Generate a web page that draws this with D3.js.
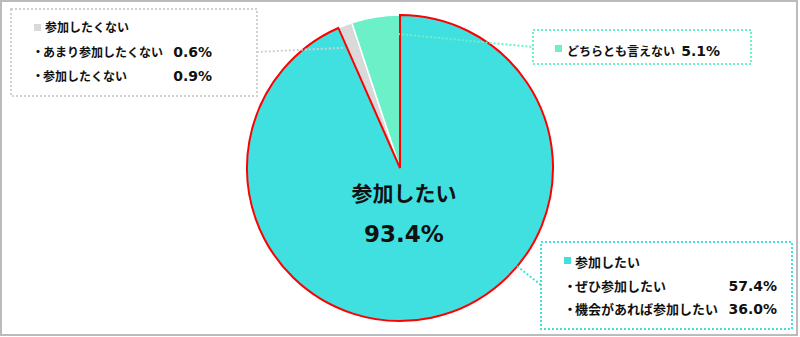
<!DOCTYPE html>
<html>
<head>
<meta charset="utf-8">
<script src="https://cdn.jsdelivr.net/npm/d3@7"></script>
<style>
  body { margin: 0; background: #fff; }
  text { font-family: "DejaVu Sans", "Noto Sans CJK JP", sans-serif; font-weight: bold; fill: #111; }
</style>
</head>
<body>
<script>
const w = 800;
const h = 337;

// data
const groups = ["参加したい", "参加したくない", "どちらとも言えない"];
const wantItems = ["ぜひ参加したい", "機会があれば参加したい"];
const wantValues = [57.4, 36.0];
const notItems = ["あまり参加したくない", "参加したくない"];
const notValues = [0.6, 0.9];
const neutralValue = 5.1;
const totalWant = 93.4;

const colors = ["#40E0E0", "#D9D9D9", "#6CF0C8"];
const groupValues = [totalWant, d3.sum(notValues), neutralValue];

let svg = d3.select("body").append("svg")
    .attr("width", w)
    .attr("height", h);

// outer frame
svg.append("rect")
    .attr("x", 1).attr("y", 1)
    .attr("width", 796).attr("height", 334)
    .attr("fill", "none")
    .attr("stroke", "#BBBBBB")
    .attr("stroke-width", 2);

const cx = 400, cy = 168, R = 153;

let pie = d3.pie().sort(null).value(d => d);
let arcs = pie(groupValues);
let arc = d3.arc().innerRadius(0).outerRadius(R);

let g = svg.append("g").attr("transform", "translate(" + cx + "," + cy + ")");

// small slices first, the big one with its red outline last
g.selectAll("path.small")
    .data(arcs.slice(1))
    .enter().append("path")
    .attr("class", "small")
    .attr("d", arc)
    .attr("fill", (d, i) => colors[i + 1])
    .attr("stroke", "#fff")
    .attr("stroke-width", 1.5);

g.append("path")
    .datum(arcs[0])
    .attr("d", arc)
    .attr("fill", colors[0])
    .attr("stroke", "#FF0000")
    .attr("stroke-width", 2);

function polar(a, r) {
    return [cx + r * Math.sin(a), cy - r * Math.cos(a)];
}

// center label
svg.append("text")
    .attr("x", cx + 4).attr("y", 201)
    .attr("text-anchor", "middle")
    .style("font-size", "21px")
    .text(groups[0]);
svg.append("text")
    .attr("x", cx + 4).attr("y", 242)
    .attr("text-anchor", "middle")
    .style("font-size", "23px")
    .text(totalWant.toFixed(1) + "%");

// dotted boxes + leader lines
function box(x, y, bw, bh, color) {
    svg.append("rect")
        .attr("x", x).attr("y", y)
        .attr("width", bw).attr("height", bh)
        .attr("fill", "#fff")
        .attr("stroke", color)
        .attr("stroke-width", 2)
        .attr("stroke-dasharray", "2,2");
}
function leader(p0, p1, color) {
    svg.append("line")
        .attr("x1", p0[0]).attr("y1", p0[1])
        .attr("x2", p1[0]).attr("y2", p1[1])
        .attr("stroke", color)
        .attr("stroke-width", 2)
        .attr("stroke-dasharray", "2,2");
}
function item(bx, tx, y, t, size) {
    svg.append("text").attr("x", bx).attr("y", y).attr("text-anchor", "middle")
        .style("font-size", size + "px").text("・");
    svg.append("text").attr("x", tx).attr("y", y).style("font-size", size + "px").text(t);
}

// gray group
leader(polar(arcs[1].startAngle - 0.03, R * 0.87), [257, 52], "#D0D0D0");
box(11, 9, 246, 87, "#D0D0D0");
svg.append("rect").attr("x", 34).attr("y", 24).attr("width", 7).attr("height", 7).attr("fill", colors[1]);
svg.append("text").attr("x", 45).attr("y", 32).style("font-size", "12px").text(groups[1]);
notItems.forEach((t, i) => {
    let y = 57 + i * 24;
    item(38, 43, y, t, 12);
    svg.append("text").attr("x", 212).attr("y", y).attr("text-anchor", "end")
        .style("font-size", "14px").text(notValues[i].toFixed(1) + "%");
});

// mint group
leader(polar((arcs[2].startAngle + arcs[2].endAngle) / 2, R * 0.9), [533, 47], colors[2]);
box(533, 30, 218, 34, colors[2]);
svg.append("rect").attr("x", 555).attr("y", 45).attr("width", 7).attr("height", 7).attr("fill", colors[2]);
svg.append("text").attr("x", 567).attr("y", 56).style("font-size", "12px").text(groups[2]);
svg.append("text").attr("x", 720).attr("y", 56).attr("text-anchor", "end")
    .style("font-size", "14px").text(neutralValue.toFixed(1) + "%");

// teal group
leader(polar(130 * Math.PI / 180, R), [541, 285], colors[0]);
box(541, 242, 251, 87, colors[0]);
svg.append("rect").attr("x", 564).attr("y", 257).attr("width", 7).attr("height", 7).attr("fill", colors[0]);
svg.append("text").attr("x", 575).attr("y", 267).style("font-size", "13px").text(groups[0]);
wantItems.forEach((t, i) => {
    let y = 291 + i * 23;
    item(570, 575, y, t, 13);
    svg.append("text").attr("x", 777).attr("y", y).attr("text-anchor", "end")
        .style("font-size", "14px").text(wantValues[i].toFixed(1) + "%");
});
</script>
</body>
</html>
